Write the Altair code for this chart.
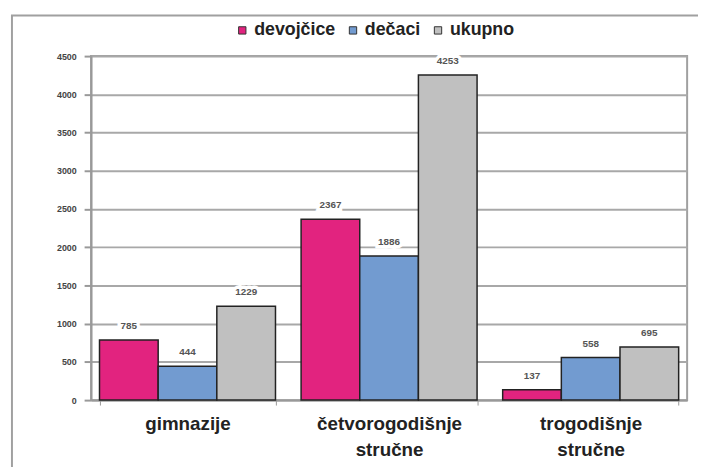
import altair as alt
import pandas as pd

categories = ["gimnazije", "četvorogodišnje stručne", "trogodišnje stručne"]
series = ["devojčice", "dečaci", "ukupno"]
devojcice = [785, 2367, 137]
decaci = [444, 1886, 558]
ukupno = [1229, 4253, 695]
colors = ["#E2237F", "#729BD0", "#C0C0C0"]
y_ticks = [0, 500, 1000, 1500, 2000, 2500, 3000, 3500, 4000, 4500]

rows = []
for s, vals in zip(series, [devojcice, decaci, ukupno]):
    for c, v in zip(categories, vals):
        rows.append({"kategorija": c, "serija": s, "vrednost": v})
df = pd.DataFrame(rows)

W, H = 603, 348

x = alt.X("kategorija:N", sort=categories, title=None,
          scale=alt.Scale(paddingInner=0.127, paddingOuter=0.042),
          axis=alt.Axis(labelExpr="datum.value ? split(datum.value, ' ') : ''", labelAngle=0,
                        labelFontSize=19, labelFontWeight="bold", labelColor="#222",
                        labelFont="Liberation Sans", labelLineHeight=26,
                        labelPadding=10, tickBand="extent", tickSize=5,
                        tickColor="#999", domainColor="#999", domainWidth=2))
y = alt.Y("vrednost:Q", title=None,
          scale=alt.Scale(domain=[0, 4500], nice=False),
          axis=alt.Axis(values=y_ticks, format="d", labelOverlap=False,
                        labelFontSize=9, labelFontWeight="bold",
                        labelColor="#444", labelFont="Liberation Sans",
                        tickSize=7, tickColor="#999", tickWidth=2,
                        domainColor="#999", domainWidth=2,
                        gridColor="#A8A8A8", gridWidth=2, labelPadding=8))
xo = alt.XOffset("serija:N", sort=series, scale=alt.Scale(paddingInner=0, paddingOuter=0))

base = alt.Chart(df)

bars = base.mark_bar(stroke="#222", strokeWidth=1.5).encode(
    x=x, y=y, xOffset=xo,
    color=alt.Color("serija:N", sort=series,
                    scale=alt.Scale(domain=series, range=colors),
                    legend=alt.Legend(title=None, orient="none", direction="horizontal",
                                      legendX=144, legendY=-35,
                                      symbolType="square", symbolSize=55,
                                      symbolStrokeColor="#333", symbolStrokeWidth=1,
                                      labelFontSize=18, labelFontWeight="bold",
                                      labelFont="Liberation Sans",
                                      labelColor="#222", columnPadding=8,
                                      symbolOffset=0, labelOffset=3)),
)

halo = base.mark_text(dy=-14, fontSize=10, color="white", stroke="white",
                      strokeWidth=7, font="Liberation Sans").encode(
    x=x, y=y, xOffset=xo, text="vrednost:Q")
labels = base.mark_text(dy=-14, fontSize=10, color="#555", fontWeight="bold",
                        font="Liberation Sans").encode(
    x=x, y=y, xOffset=xo, text="vrednost:Q")

frame = alt.Chart(pd.DataFrame({"f": [0]})).mark_rect(
    fill="transparent", stroke="#A0A0A0", strokeWidth=2).encode(
    x=alt.value(-80), x2=alt.value(W + 200), y=alt.value(-41), y2=alt.value(H + 200))

chart = alt.layer(frame, bars, halo, labels).properties(
    width=W, height=H,
    autosize=alt.AutoSizeParams(type="none"),
    padding={"left": 84, "top": 46, "right": 11, "bottom": 65},
).configure_view(stroke="#A0A0A0", strokeWidth=2)

chart.save("out.html", embed_options={"renderer": "svg", "actions": False})
